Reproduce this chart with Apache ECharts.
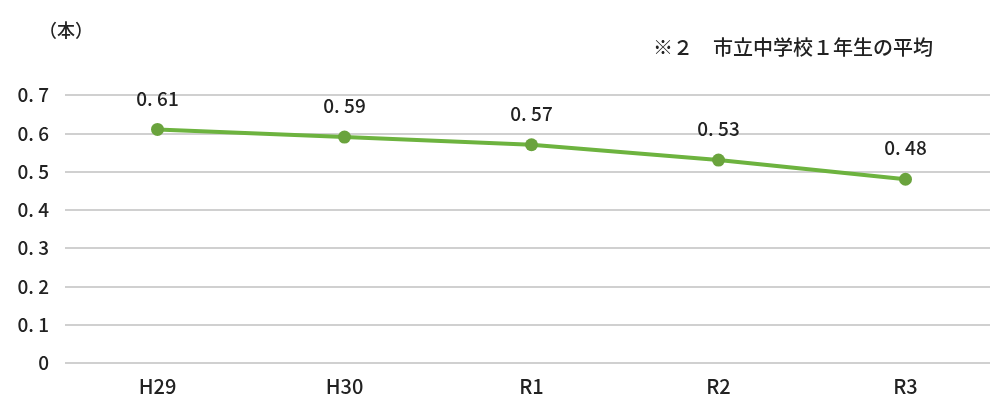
<!DOCTYPE html>
<html><head><meta charset="utf-8">
<script src="https://cdn.jsdelivr.net/npm/echarts@6/dist/echarts.min.js"></script>
<style>html,body{margin:0;padding:0;background:#fff}#c{width:999px;height:406px}</style>
</head><body><div id="c"></div>
<script>
const categories = ['H29', 'H30', 'R1', 'R2', 'R3'];
const values = [0.61, 0.59, 0.57, 0.53, 0.48];
const yMin = 0, yMax = 0.7, yStep = 0.1;
const unitText = '（本）';
const noteText = '※２　市立中学校１年生の平均';

const fmt = v => { const s = String(+v.toFixed(2)); return s.replace('.', '. '); };
const font = '"Noto Sans CJK JP", "Noto Sans", sans-serif';
const chart = echarts.init(document.getElementById('c'));
chart.setOption({
  animation: false,
  backgroundColor: '#fff',
  title: [
    { text: unitText, left: 34, top: 16, textStyle: { fontFamily: font, fontSize: 18, fontWeight: 500, color: '#222' } },
    { text: noteText, left: 648, top: 32, textStyle: { fontFamily: font, fontSize: 20, fontWeight: 500, color: '#222' } }
  ],
  grid: [
    { left: 65, right: 9, top: 95, bottom: 43 },
    { left: 64, width: 940, top: 95, bottom: 43 }
  ],
  xAxis: [
    { gridIndex: 0, type: 'category', data: categories, show: false },
    { gridIndex: 1, type: 'category', data: categories, boundaryGap: true,
      axisLine: { show: false }, axisTick: { show: false },
      axisLabel: { fontFamily: font, fontSize: 20, fontWeight: 500, color: '#222', margin: 13 } }
  ],
  yAxis: [
    { gridIndex: 0, type: 'value', min: yMin, max: yMax, interval: yStep,
      axisLine: { show: false }, axisTick: { show: false },
      axisLabel: { fontFamily: font, fontSize: 19, fontWeight: 500, color: '#222', margin: 16, formatter: fmt },
      splitLine: { lineStyle: { color: '#d0d0d0', width: 2 } } },
    { gridIndex: 1, type: 'value', min: yMin, max: yMax, interval: yStep, show: false, splitLine: { show: false } }
  ],
  series: [{
    type: 'line', xAxisIndex: 1, yAxisIndex: 1, data: values,
    lineStyle: { color: '#6db33f', width: 4 },
    itemStyle: { color: '#6aa33d' },
    symbol: 'circle', symbolSize: 13,
    label: { show: true, position: 'top', distance: 15, fontFamily: font, fontSize: 19, fontWeight: 500, color: '#222', formatter: p => fmt(p.value) }
  }]
});
</script></body></html>
